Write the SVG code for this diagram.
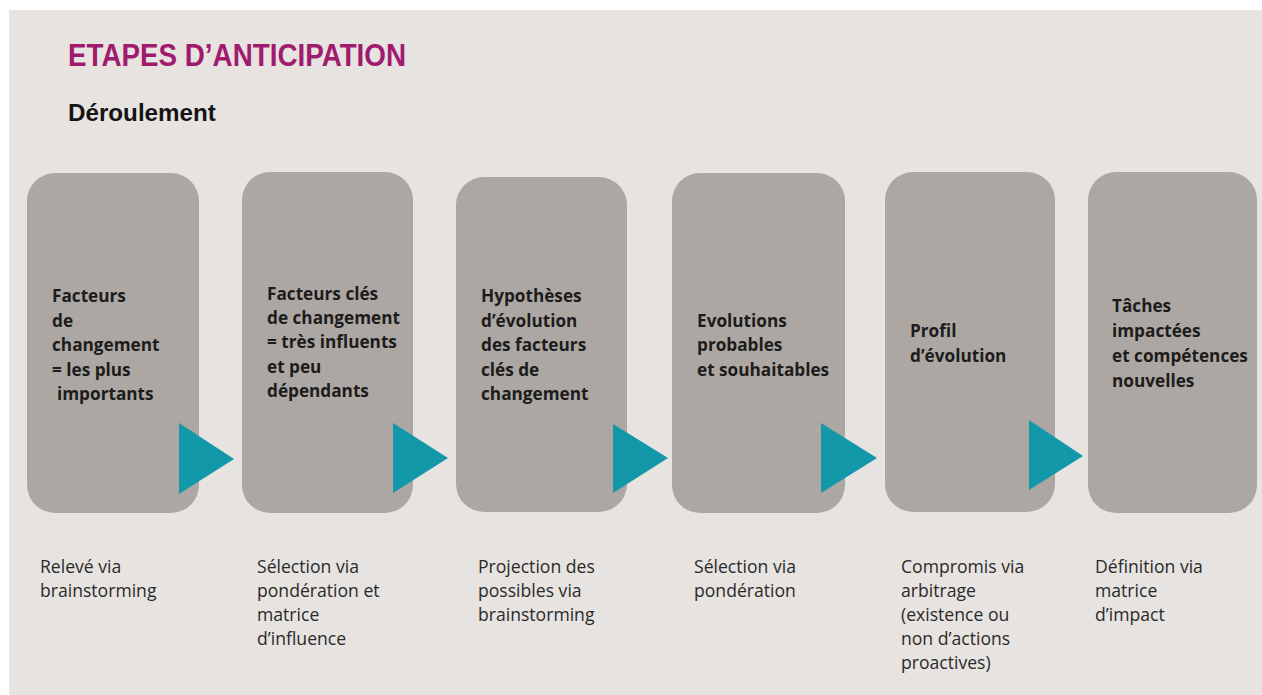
<svg xmlns="http://www.w3.org/2000/svg" width="1262" height="695" viewBox="0 0 1262 695">
<style>
.bg{fill:#e6e3e0}
.box{fill:#aca7a3}
.arr{fill:#1298a9}
.bt{font-family:"Open Sans","Liberation Sans",sans-serif;font-weight:bold;font-size:17.2px;fill:#1c1c1c}
.lt{font-family:"Open Sans","Liberation Sans",sans-serif;font-size:17.6px;fill:#2a2a2a}
.title{font-family:"Liberation Sans",Arial,sans-serif;font-weight:bold;font-size:31px;fill:#a01a6e}
.sub{font-family:"Liberation Sans",Arial,sans-serif;font-weight:bold;font-size:24.2px;fill:#141414}
</style>
<rect x="0" y="0" width="1262" height="695" fill="#ffffff"/>
<rect class="bg" x="9" y="10" width="1253" height="685"/>
<g id="title">
<text class="title" x="68" y="66" textLength="338" lengthAdjust="spacingAndGlyphs">ETAPES D’ANTICIPATION</text>
<text class="sub" x="68" y="121">Déroulement</text>
</g>
<g id="step1">
<rect class="box" x="27" y="173" width="172" height="340" rx="28"/>
<text class="bt"><tspan x="52" y="302">Facteurs</tspan><tspan x="52" y="327">de</tspan><tspan x="52" y="351">changement</tspan><tspan x="52" y="376">= les plus</tspan><tspan x="57" y="400">importants</tspan></text>
</g>
<g id="step2">
<rect class="box" x="242" y="172" width="171" height="341" rx="28"/>
<text class="bt"><tspan x="267" y="300">Facteurs clés</tspan><tspan x="267" y="324">de changement</tspan><tspan x="267" y="348">= très influents</tspan><tspan x="267" y="373">et peu</tspan><tspan x="267" y="397">dépendants</tspan></text>
</g>
<g id="step3">
<rect class="box" x="456" y="177" width="171" height="335" rx="28"/>
<text class="bt"><tspan x="481" y="302">Hypothèses</tspan><tspan x="481" y="327">d’évolution</tspan><tspan x="481" y="351">des facteurs</tspan><tspan x="481" y="376">clés de</tspan><tspan x="481" y="400">changement</tspan></text>
</g>
<g id="step4">
<rect class="box" x="672" y="173" width="173" height="340" rx="28"/>
<text class="bt"><tspan x="697" y="327">Evolutions</tspan><tspan x="697" y="351">probables</tspan><tspan x="697" y="376">et souhaitables</tspan></text>
</g>
<g id="step5">
<rect class="box" x="885" y="172" width="170" height="340" rx="28"/>
<text class="bt"><tspan x="910" y="337">Profil</tspan><tspan x="910" y="362">d’évolution</tspan></text>
</g>
<g id="step6">
<rect class="box" x="1088" y="172" width="169" height="341" rx="28"/>
<text class="bt"><tspan x="1112" y="312">Tâches</tspan><tspan x="1112" y="337">impactées</tspan><tspan x="1112" y="362">et compétences</tspan><tspan x="1112" y="387">nouvelles</tspan></text>
</g>
<g id="connectors">
<polygon class="arr" points="179,423 179,494 234,459"/>
<polygon class="arr" points="393,423 393,493 448,458"/>
<polygon class="arr" points="613,424 613,493 668,458"/>
<polygon class="arr" points="821,423 821,493 877,458"/>
<polygon class="arr" points="1029,420 1029,490 1083,456"/>
</g>
<g id="methods">
<text class="lt"><tspan x="40" y="573">Relevé via</tspan><tspan x="40" y="597">brainstorming</tspan></text>
<text class="lt"><tspan x="257" y="573">Sélection via</tspan><tspan x="257" y="597">pondération et</tspan><tspan x="257" y="621">matrice</tspan><tspan x="257" y="645">d’influence</tspan></text>
<text class="lt"><tspan x="478" y="573">Projection des</tspan><tspan x="478" y="597">possibles via</tspan><tspan x="478" y="621">brainstorming</tspan></text>
<text class="lt"><tspan x="694" y="573">Sélection via</tspan><tspan x="694" y="597">pondération</tspan></text>
<text class="lt"><tspan x="901" y="573">Compromis via</tspan><tspan x="901" y="597">arbitrage</tspan><tspan x="901" y="621">(existence ou</tspan><tspan x="901" y="645">non d’actions</tspan><tspan x="901" y="669">proactives)</tspan></text>
<text class="lt"><tspan x="1095" y="573">Définition via</tspan><tspan x="1095" y="597">matrice</tspan><tspan x="1095" y="621">d’impact</tspan></text>
</g>
</svg>
